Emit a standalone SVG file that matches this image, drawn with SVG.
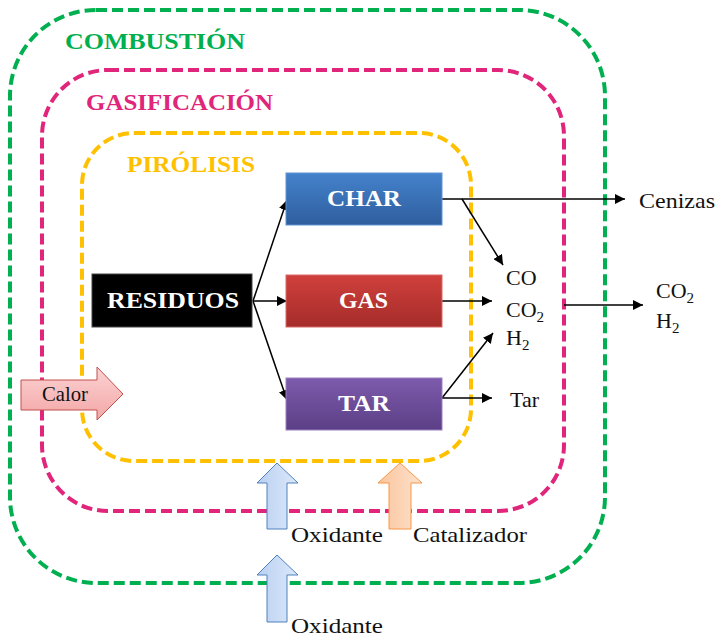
<svg xmlns="http://www.w3.org/2000/svg" width="717" height="638" viewBox="0 0 717 638">
  <defs>
    <linearGradient id="gBlue" x1="0" y1="0" x2="0" y2="1">
      <stop offset="0" stop-color="#4482CC"/>
      <stop offset="1" stop-color="#2F5E9E"/>
    </linearGradient>
    <linearGradient id="gRed" x1="0" y1="0" x2="0" y2="1">
      <stop offset="0" stop-color="#D0403C"/>
      <stop offset="1" stop-color="#A52C2A"/>
    </linearGradient>
    <linearGradient id="gPurple" x1="0" y1="0" x2="0" y2="1">
      <stop offset="0" stop-color="#7D5BAC"/>
      <stop offset="1" stop-color="#5C3F86"/>
    </linearGradient>
    <linearGradient id="gCalor" x1="0" y1="0" x2="0" y2="1">
      <stop offset="0" stop-color="#FBD3D3"/>
      <stop offset="1" stop-color="#F4A6A6"/>
    </linearGradient>
    <linearGradient id="gOx" x1="0" y1="0" x2="1" y2="0">
      <stop offset="0" stop-color="#B9D0F2"/>
      <stop offset="1" stop-color="#DCE8F9"/>
    </linearGradient>
    <linearGradient id="gCat" x1="0" y1="0" x2="1" y2="0">
      <stop offset="0" stop-color="#FBC49C"/>
      <stop offset="1" stop-color="#FDE2CC"/>
    </linearGradient>
    <marker id="arr" viewBox="0 0 10 10" refX="10" refY="5" markerWidth="10" markerHeight="10" markerUnits="userSpaceOnUse" orient="auto">
      <path d="M0,0 L10,5 L0,10 z" fill="#000"/>
    </marker>
    <style>
      .zone { fill: none; stroke-width: 4; stroke-dasharray: 11 5; }
      .title { font-family: "Liberation Serif", "DejaVu Serif", serif; font-weight: bold; font-size: 24px; }
      .boxlbl { font-family: "Liberation Serif", "DejaVu Serif", serif; font-weight: bold; font-size: 24px; fill: #fff; }
      .lbl { font-family: "Liberation Serif", "DejaVu Serif", serif; font-size: 22px; fill: #111; }
      .sub { font-size: 15px; }
      .conn { stroke: #000; stroke-width: 1.5; fill: none; }
    </style>
  </defs>

  <rect width="717" height="638" fill="#fff"/>

  <!-- process zones -->
  <g id="combustion">
    <rect class="zone" x="10" y="10" width="595" height="573" rx="86" stroke="#00B050"/>
    <text class="title" x="65" y="49" fill="#00B050" textLength="180" lengthAdjust="spacingAndGlyphs">COMBUSTIÓN</text>
  </g>
  <g id="gasificacion">
    <rect class="zone" x="42" y="70" width="522" height="441" rx="66" stroke="#E0257A"/>
    <text class="title" x="86" y="110" fill="#E0257A" textLength="187" lengthAdjust="spacingAndGlyphs">GASIFICACIÓN</text>
  </g>
  <g id="pirolisis">
    <rect class="zone" x="82" y="133" width="389" height="328" rx="52" stroke="#FFC000"/>
    <text class="title" x="127" y="172" fill="#FFC000" textLength="128" lengthAdjust="spacingAndGlyphs">PIRÓLISIS</text>
  </g>

  <!-- connectors -->
  <g id="connectors">
    <line class="conn" x1="253" y1="301" x2="287" y2="200" marker-end="url(#arr)"/>
    <line class="conn" x1="253" y1="301" x2="287" y2="301" marker-end="url(#arr)"/>
    <line class="conn" x1="253" y1="301" x2="287" y2="400" marker-end="url(#arr)"/>
    <line class="conn" x1="442" y1="199" x2="625" y2="199" marker-end="url(#arr)"/>
    <line class="conn" x1="462" y1="199" x2="503" y2="265" marker-end="url(#arr)"/>
    <line class="conn" x1="442" y1="301" x2="492" y2="301" marker-end="url(#arr)"/>
    <line class="conn" x1="442" y1="398" x2="493" y2="333" marker-end="url(#arr)"/>
    <line class="conn" x1="442" y1="398" x2="492" y2="398" marker-end="url(#arr)"/>
    <line class="conn" x1="564" y1="305" x2="643" y2="305" marker-end="url(#arr)"/>
  </g>

  <!-- material boxes -->
  <g id="residuos">
    <rect x="92" y="274" width="160" height="53" fill="#000" stroke="#444" stroke-width="1"/>
    <text class="boxlbl" x="107" y="308" textLength="132" lengthAdjust="spacingAndGlyphs">RESIDUOS</text>
  </g>
  <g id="char">
    <rect x="286" y="173" width="156" height="52" fill="url(#gBlue)" stroke="#5F93D3" stroke-width="1"/>
    <text class="boxlbl" x="327" y="206" textLength="74" lengthAdjust="spacingAndGlyphs">CHAR</text>
  </g>
  <g id="gas">
    <rect x="286" y="275" width="156" height="52" fill="url(#gRed)" stroke="#D86A67" stroke-width="1"/>
    <text class="boxlbl" x="339" y="308" textLength="49" lengthAdjust="spacingAndGlyphs">GAS</text>
  </g>
  <g id="tar">
    <rect x="286" y="378" width="156" height="52" fill="url(#gPurple)" stroke="#9A80C0" stroke-width="1"/>
    <text class="boxlbl" x="338" y="411" textLength="52" lengthAdjust="spacingAndGlyphs">TAR</text>
  </g>

  <!-- products -->
  <g id="cenizas">
    <text class="lbl" x="639" y="208" textLength="76" lengthAdjust="spacingAndGlyphs">Cenizas</text>
  </g>
  <g id="syngas">
    <text class="lbl" x="506" y="285">CO</text>
    <text class="lbl" x="506" y="317">CO<tspan class="sub" dy="5">2</tspan></text>
    <text class="lbl" x="506" y="345">H<tspan class="sub" dy="5">2</tspan></text>
  </g>
  <g id="tar-out">
    <text class="lbl" x="510" y="407">Tar</text>
  </g>
  <g id="combustion-gas">
    <text class="lbl" x="656" y="298">CO<tspan class="sub" dy="5">2</tspan></text>
    <text class="lbl" x="656" y="328">H<tspan class="sub" dy="5">2</tspan></text>
  </g>

  <!-- inputs -->
  <g id="calor">
    <path d="M21,380 L97,380 L97,367 L123,394 L97,420 L97,410 L21,410 Z" fill="url(#gCalor)" stroke="#C0504D" stroke-width="1"/>
    <text class="lbl" x="42" y="401" font-size="19" textLength="46" lengthAdjust="spacingAndGlyphs">Calor</text>
  </g>
  <g id="oxidante-1">
    <path d="M277,463 L298,483 L287,483 L287,529 L267,529 L267,483 L257,483 Z" fill="url(#gOx)" stroke="#4F81BD" stroke-width="1"/>
    <text class="lbl" x="291" y="542" textLength="92" lengthAdjust="spacingAndGlyphs">Oxidante</text>
  </g>
  <g id="catalizador">
    <path d="M400,463 L422,483 L411,483 L411,529 L389,529 L389,483 L378,483 Z" fill="url(#gCat)" stroke="#F79646" stroke-width="1"/>
    <text class="lbl" x="413" y="542" textLength="114" lengthAdjust="spacingAndGlyphs">Catalizador</text>
  </g>
  <g id="oxidante-2">
    <path d="M277,555 L298,575 L287,575 L287,622 L267,622 L267,575 L257,575 Z" fill="url(#gOx)" stroke="#4F81BD" stroke-width="1"/>
    <text class="lbl" x="291" y="633" textLength="92" lengthAdjust="spacingAndGlyphs">Oxidante</text>
  </g>
</svg>
